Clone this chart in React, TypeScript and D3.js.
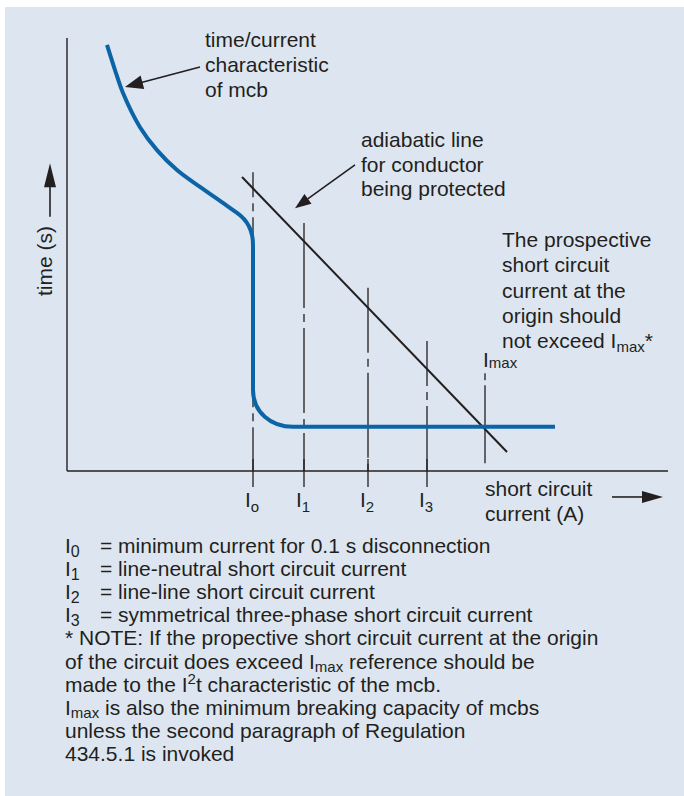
import React from "react";
import * as d3 from "d3";

// chart units: current 0..120 across, time 0..100 up (arbitrary, schematic)
const mcbUpper: [number, number][] = [
  [8, 98.4], [9.6, 92.6], [11.2, 87.3], [14.6, 79.4], [18, 74.1], [22, 69.5],
  [26.6, 65.6], [31.2, 61.9], [34, 59.6],
];
const mcbKnee: [number, number][] = [[36.0, 58.0], [37.2, 55.7], [37.2, 52.2]]; // ctrl1, ctrl2, end
const mcbDrop: [number, number] = [37.2, 18.7];
const mcbFoot: [number, number][] = [[37.2, 13.6], [40.8, 10.2], [45.2, 10.2]]; // ctrl1, ctrl2, end
const mcbEnd: [number, number] = [97.6, 10.2];

const adiabaticLine: [number, number][] = [[35, 67.9], [88, 4.4]];

const tickNames = ["I", "I", "I", "I"];
const tickSubs = ["o", "1", "2", "3"];
const tickCurrents = [37.2, 47.4, 60.2, 72];
const tickTops = [69, 57.3, 42.3, 30];
const tickDashOffsets = [-45, 0, 20, 40];

const imaxCurrent = 83.6;
const imaxTop = 22.6;
const imaxBottom = 1.8;

const mcbLabel = ["time/current", "characteristic", "of mcb"];
const adiabaticLabel = ["adiabatic line", "for conductor", "being protected"];
const prospectiveLabel = ["The prospective", "short circuit", "current at the", "origin should"];

const W = 684;
const H = 796;
const BG = "#dde6f0";
const INK = "#231f20";
const BLUE = "#0b64a6";
const FONT = "'Liberation Sans', Arial, Helvetica, sans-serif";

function Arrow({ x1, y1, x2, y2, len, half, width = 1.6 }: any) {
  const a = Math.atan2(y2 - y1, x2 - x1);
  const bx = x2 - len * Math.cos(a);
  const by = y2 - len * Math.sin(a);
  const px = -Math.sin(a) * half;
  const py = Math.cos(a) * half;
  return (
    <g>
      <line x1={x1} y1={y1} x2={bx + Math.cos(a) * 2} y2={by + Math.sin(a) * 2} stroke={INK} strokeWidth={width} />
      <polygon points={`${x2},${y2} ${bx + px},${by + py} ${bx - px},${by - py}`} fill={INK} />
    </g>
  );
}

export default function App() {
  const x = d3.scaleLinear().domain([0, 120]).range([67, 667]);
  const y = d3.scaleLinear().domain([0, 100]).range([471, 38]);

  // mcb curve: smooth upper part, rounded knee, vertical drop, rounded foot, flat tail
  const p = d3.path();
  d3.line<[number, number]>()
    .x(d => x(d[0]))
    .y(d => y(d[1]))
    .curve(d3.curveCatmullRom.alpha(0.5))
    .context(p)(mcbUpper);
  p.bezierCurveTo(x(mcbKnee[0][0]), y(mcbKnee[0][1]), x(mcbKnee[1][0]), y(mcbKnee[1][1]), x(mcbKnee[2][0]), y(mcbKnee[2][1]));
  p.lineTo(x(mcbDrop[0]), y(mcbDrop[1]));
  p.bezierCurveTo(x(mcbFoot[0][0]), y(mcbFoot[0][1]), x(mcbFoot[1][0]), y(mcbFoot[1][1]), x(mcbFoot[2][0]), y(mcbFoot[2][1]));
  p.lineTo(x(mcbEnd[0]), y(mcbEnd[1]));

  const fs = 21;
  const sub = 15;

  const legendTop = 553;
  const lh = 23.1;

  return (
    <svg width={W} height={H} style={{ position: "absolute", left: 0, top: 0 }} fontFamily={FONT}>
      <rect x={5} y={7} width={W - 5} height={H - 7} fill={BG} />

      {/* axes */}
      <line x1={x(0)} y1={y(100)} x2={x(0)} y2={y(0)} stroke={INK} strokeWidth={1.4} />
      <line x1={x(0)} y1={y(0)} x2={x(120.2)} y2={y(0)} stroke={INK} strokeWidth={1.4} />

      {/* y axis label + arrow */}
      <Arrow x1={x(-3.4)} y1={y(58.7)} x2={x(-3.4)} y2={y(71.1)} len={24} half={6} />
      <text transform={`translate(${x(-3)},${y(48.5)}) rotate(-90)`} textAnchor="middle" fontSize={fs} fill={INK}>time (s)</text>

      {/* x axis label + arrow */}
      <text x={x(83.6)} y={y(-5.8)} fontSize={fs} fill={INK}>short circuit</text>
      <text x={x(83.6)} y={y(-11.5)} fontSize={fs} fill={INK}>current (A)</text>
      <Arrow x1={x(109)} y1={y(-6)} x2={x(119.2)} y2={y(-6)} len={21} half={6} />

      {/* current markers */}
      {tickCurrents.map((c, i) => (
        <g key={i}>
          <line x1={x(c)} y1={y(tickTops[i])} x2={x(c)} y2={y(0)} stroke={INK} strokeWidth={1.3}
            strokeDasharray="85,6,8,6" strokeDashoffset={tickDashOffsets[i]} />
          <line x1={x(c)} y1={y(0) - 12} x2={x(c)} y2={y(0) + 16} stroke={INK} strokeWidth={1.3} />
          <text x={x(c) - 8} y={y(-8.3)} fontSize={fs} fill={INK}>
            {tickNames[i]}<tspan fontSize={sub} dy={5}>{tickSubs[i]}</tspan>
          </text>
        </g>
      ))}
      <line x1={x(imaxCurrent)} y1={y(imaxTop)} x2={x(imaxCurrent)} y2={y(imaxBottom)} stroke={INK} strokeWidth={1.3}
        strokeDasharray="7,5,85,6" />
      <text x={x(imaxCurrent) - 2} y={y(24)} fontSize={fs} fill={INK}>
        I<tspan fontSize={sub} dy={1}>max</tspan>
      </text>

      {/* adiabatic line */}
      <path d={d3.line()(adiabaticLine.map(d => [x(d[0]), y(d[1])])) || ""} stroke={INK} strokeWidth={2} fill="none" />

      {/* mcb curve */}
      <path d={p.toString()} stroke={BLUE} strokeWidth={4} fill="none" />

      {/* annotations */}
      {mcbLabel.map((t, i) => (
        <text key={t} x={x(27.6)} y={y(97.9) + i * 25} fontSize={fs} fill={INK}>{t}</text>
      ))}
      <Arrow x1={x(26.6)} y1={y(93.3)} x2={x(11.6)} y2={y(88.7)} len={18} half={7} />

      {adiabaticLabel.map((t, i) => (
        <text key={t} x={x(58.8)} y={y(74.8) + i * 24.5} fontSize={fs} fill={INK}>{t}</text>
      ))}
      <Arrow x1={x(57.6)} y1={y(70.7)} x2={x(45.6)} y2={y(60.7)} len={16} half={6} />

      {prospectiveLabel.map((t, i) => (
        <text key={t} x={x(87)} y={y(51.7) + i * 25.3} fontSize={fs} fill={INK}>{t}</text>
      ))}
      <text x={x(87)} y={y(51.7) + 4 * 25.3} fontSize={fs} fill={INK}>
        not exceed I<tspan fontSize={sub} dy={4}>max</tspan><tspan dy={-4}>*</tspan>
      </text>

      {/* legend */}
      <g fontSize={fs} fill={INK}>
        {tickSubs.map((s, i) => (
          <text key={i} x={65} y={legendTop + i * lh}>
            I<tspan fontSize={sub + 1} dy={4}>{i === 0 ? "0" : s}</tspan>
          </text>
        ))}
        <text x={100} y={legendTop}>= minimum current for 0.1 s disconnection</text>
        <text x={100} y={legendTop + lh}>= line-neutral short circuit current</text>
        <text x={100} y={legendTop + 2 * lh}>= line-line short circuit current</text>
        <text x={100} y={legendTop + 3 * lh}>= symmetrical three-phase short circuit current</text>
        <text x={65} y={legendTop + 4 * lh}>* NOTE: If the propective short circuit current at the origin</text>
        <text x={65} y={legendTop + 5 * lh}>
          of the circuit does exceed I<tspan fontSize={sub} dy={3}>max</tspan><tspan dy={-3}> reference should be</tspan>
        </text>
        <text x={65} y={legendTop + 6 * lh}>
          made to the I<tspan fontSize={sub} dy={-8}>2</tspan><tspan dy={8}>t characteristic of the mcb.</tspan>
        </text>
        <text x={65} y={legendTop + 7 * lh}>
          I<tspan fontSize={sub} dy={3}>max</tspan><tspan dy={-3}> is also the minimum breaking capacity of mcbs</tspan>
        </text>
        <text x={65} y={legendTop + 8 * lh}>unless the second paragraph of Regulation</text>
        <text x={65} y={legendTop + 9 * lh}>434.5.1 is invoked</text>
      </g>
    </svg>
  );
}
